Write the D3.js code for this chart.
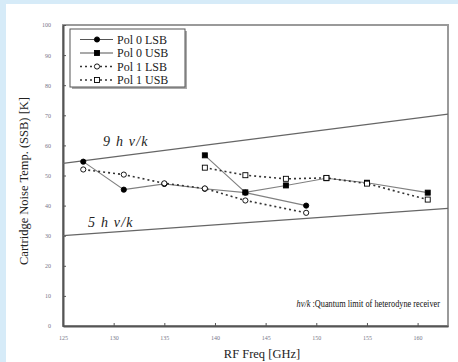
<!DOCTYPE html>
<html><head><meta charset="utf-8">
<script src="https://cdn.jsdelivr.net/npm/d3@7"></script>
<style>html,body{margin:0;padding:0;background:#d6ebf8;}svg{display:block;}</style>
</head><body><svg id="c" width="458" height="362"></svg>
<script>
const xTicks = [125,130,135,140,145,150,155,160];
const yTicks = [0,10,20,30,40,50,60,70,80,90,100];
const pol0LSB = [[127,54.6],[131,45.3],[135,47.2],[139,45.6],[143,44.3],[149,40.0]];
const pol0USB = [[139,56.7],[143,44.4],[147,46.7],[151,49.1],[155,47.6],[161,44.3]];
const pol1LSB = [[127,52.0],[131,50.3],[135,47.4],[139,45.7],[143,41.7],[149,37.6]];
const pol1USB = [[139,52.6],[143,50.1],[147,48.9],[151,49.2],[155,47.3],[161,42.0]];
const limit9 = [[125,54.0],[163,70.4]];
const limit5 = [[125,30.0],[163,39.1]];
const seriesNames = ["Pol 0 LSB","Pol 0 USB","Pol 1 LSB","Pol 1 USB"];

const svg = d3.select("#c");
svg.append("rect").attr("x",6).attr("y",4).attr("width",452).attr("height",358).attr("fill","#fff");
const L=63,R=448,T=25,B=326;
const x = d3.scaleLinear().domain([125,163]).range([L,R]);
const y = d3.scaleLinear().domain([0,100]).range([B,T]);

svg.append("rect").attr("x",L).attr("y",T).attr("width",R-L).attr("height",B-T)
  .attr("fill","none").attr("stroke","#9a9a9a").attr("stroke-width",2);
const gx = svg.append("g").attr("transform",`translate(0,${B})`)
  .call(d3.axisBottom(x).tickValues(xTicks).tickSizeInner(-3).tickSizeOuter(0).tickPadding(10));
const gy = svg.append("g").attr("transform",`translate(${L},0)`)
  .call(d3.axisLeft(y).tickValues(yTicks).tickSizeInner(-3).tickSizeOuter(0).tickPadding(12));
[gx,gy].forEach(g=>{
  g.select(".domain").attr("stroke","#555").attr("stroke-width",2);
  g.selectAll(".tick line").attr("stroke","#555");
  g.selectAll(".tick text").attr("font-family","Liberation Serif").attr("font-size",6).attr("fill","#778");
});

const line = d3.line().x(d=>x(d[0])).y(d=>y(d[1]));
[limit9,limit5].forEach(d=>svg.append("path").attr("d",line(d)).attr("fill","none").attr("stroke","#666").attr("stroke-width",1.2));

const styles = [
  {data:pol0LSB, dash:null, stroke:"#808080", shape:"circle", fill:"#000"},
  {data:pol0USB, dash:null, stroke:"#808080", shape:"square", fill:"#000"},
  {data:pol1LSB, dash:"2,3", stroke:"#333", shape:"circle", fill:"#fff"},
  {data:pol1USB, dash:"2,3", stroke:"#333", shape:"square", fill:"#fff"}
];
function marker(g, cx, cy, s){
  if(s.shape==="circle") g.append("circle").attr("cx",cx).attr("cy",cy).attr("r",2.6)
     .attr("fill",s.fill).attr("stroke","#000").attr("stroke-width",0.9);
  else g.append("rect").attr("x",cx-2.5).attr("y",cy-2.5).attr("width",5).attr("height",5)
     .attr("fill",s.fill).attr("stroke","#000").attr("stroke-width",0.9);
}
styles.forEach(s=>{
  svg.append("path").attr("d",line(s.data)).attr("fill","none").attr("stroke",s.stroke)
    .attr("stroke-width",s.dash?1.6:1.1).attr("stroke-dasharray",s.dash);
});
[0,1,2,3].forEach(i=>{const s=styles[i]; const g=svg.append("g");
  s.data.forEach(d=>marker(g,x(d[0]),y(d[1]),s));});

const serif="Liberation Serif";
svg.append("text").attr("x",103).attr("y",146).attr("font-family",serif).attr("font-size",14)
  .attr("letter-spacing",1.2).attr("font-style","italic").attr("fill","#222").text("9 h ν/k");
svg.append("text").attr("x",88).attr("y",227).attr("font-family",serif).attr("font-size",14)
  .attr("letter-spacing",1.2).attr("font-style","italic").attr("fill","#222").text("5 h ν/k");
const q = svg.append("g").attr("transform","translate(440,307) scale(0.79,1)")
  .append("text").attr("x",0).attr("y",0).attr("text-anchor","end")
  .attr("font-family",serif).attr("font-size",10.5).attr("fill","#111");
q.append("tspan").attr("font-style","italic").text("hν/k");
q.append("tspan").text(" :Quantum limit of heterodyne receiver");

svg.append("text").attr("x",262).attr("y",358).attr("text-anchor","middle")
  .attr("font-family",serif).attr("font-size",12.5).attr("fill","#222").text("RF Freq [GHz]");
svg.append("text").attr("transform","translate(28,181) rotate(-90)").attr("text-anchor","middle")
  .attr("font-family",serif).attr("font-size",12.5).attr("fill","#222").text("Cartridge Noise Temp. (SSB) [K]");

const lg = svg.append("g");
lg.append("rect").attr("x",72).attr("y",31).attr("width",115).attr("height",58).attr("fill","#aaa");
lg.append("rect").attr("x",70).attr("y",29).attr("width",115).attr("height",58).attr("fill","#fff")
  .attr("stroke","#555").attr("stroke-width",1);
seriesNames.forEach((n,i)=>{
  const s=styles[i], yy=39.5+i*13.5;
  lg.append("line").attr("x1",80).attr("x2",113).attr("y1",yy).attr("y2",yy)
    .attr("stroke",s.dash?"#333":"#555").attr("stroke-width",s.dash?1.6:1.2).attr("stroke-dasharray",s.dash);
  marker(lg,97,yy,s);
  lg.append("text").attr("x",117).attr("y",yy+4).attr("font-family",serif).attr("font-size",12)
    .attr("fill","#222").text(n);
});
</script></body></html>
